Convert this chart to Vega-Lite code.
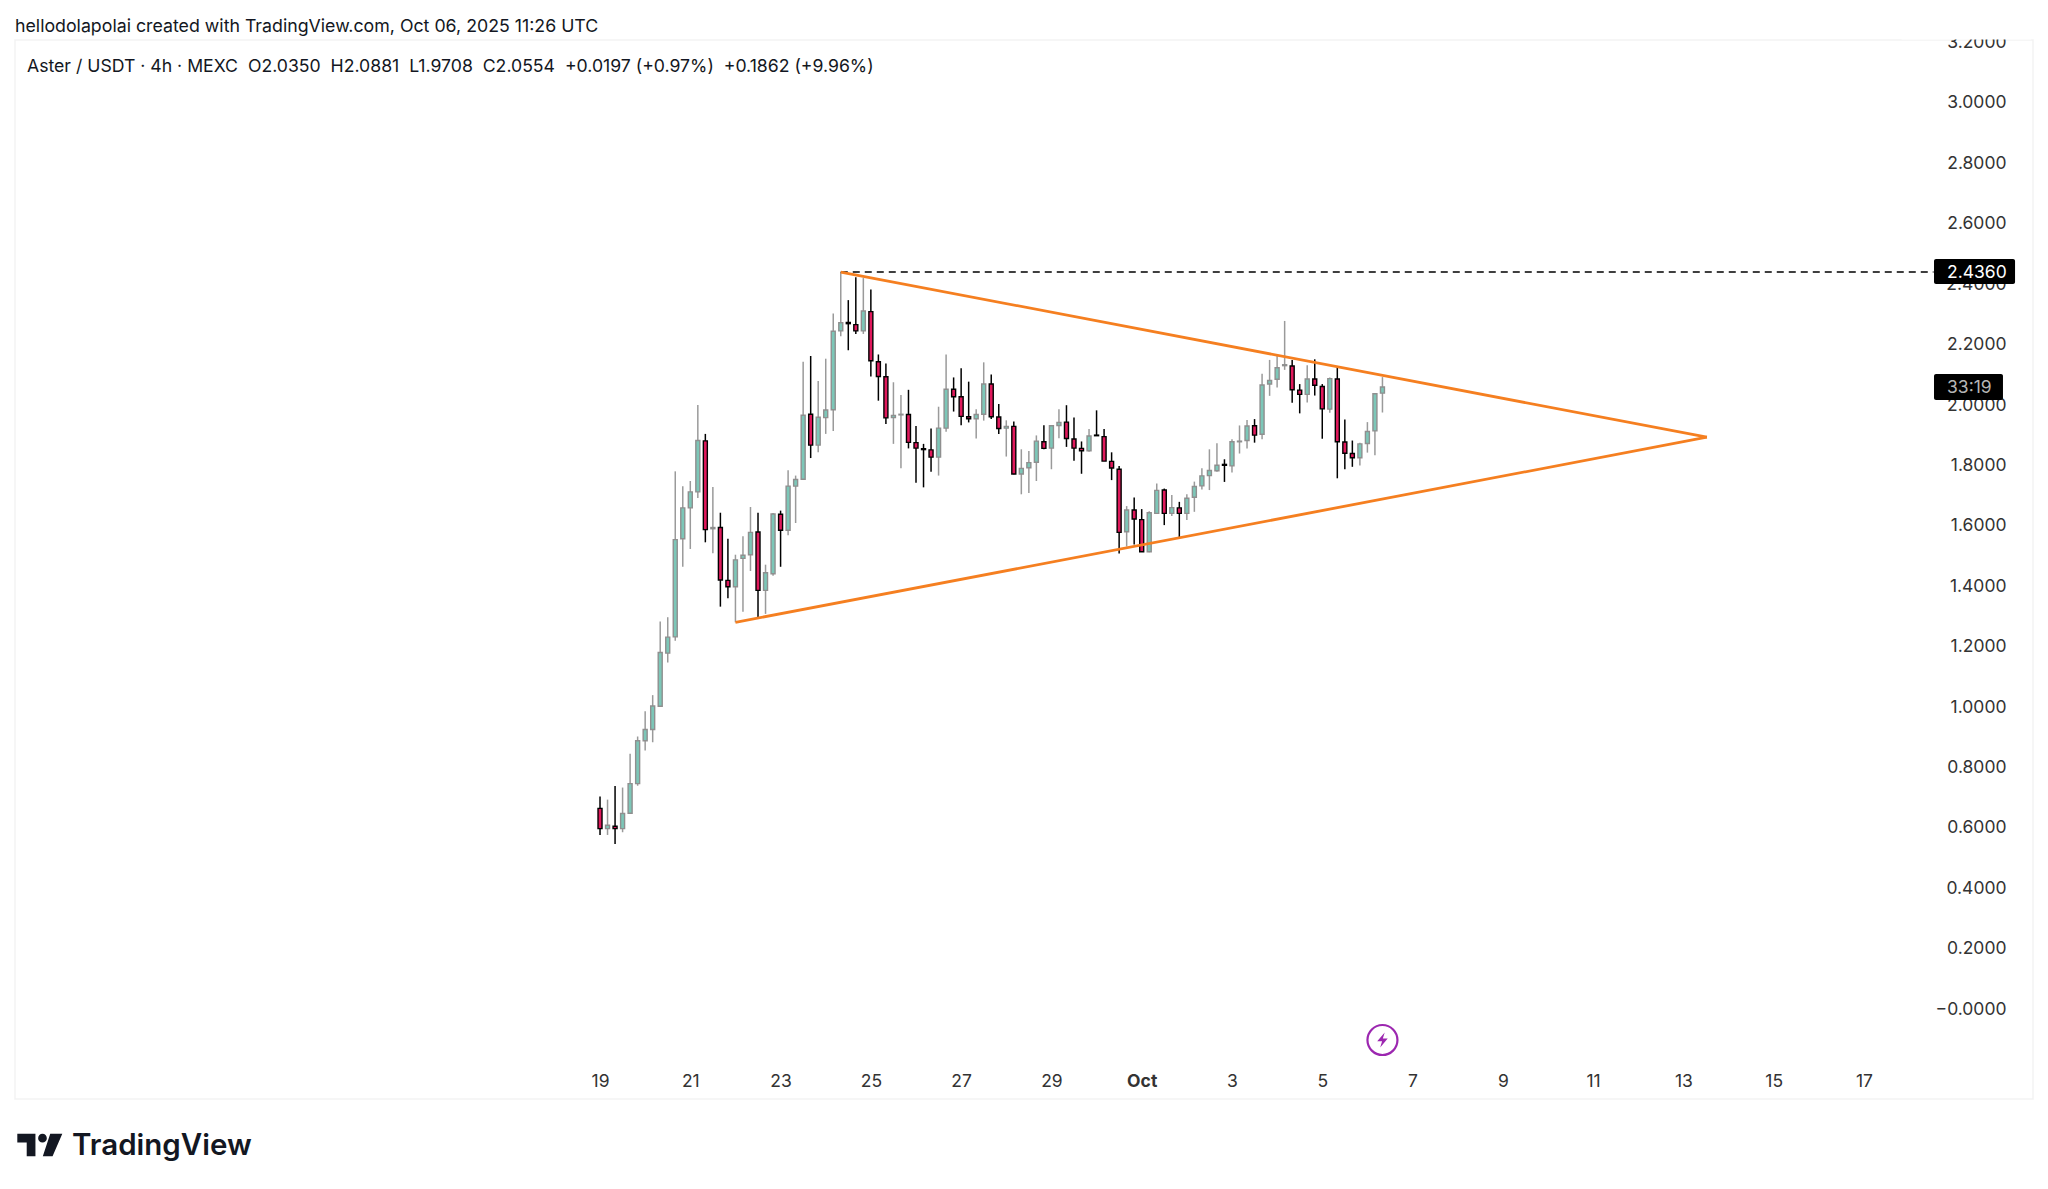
{"$schema":"https://vega.github.io/schema/vega-lite/v6.json","width":2018,"height":1059,"autosize":{"type":"none"},"padding":{"left":15,"top":40,"right":15,"bottom":90},"background":"white","view":{"stroke":"#f3f3f3","strokeWidth":1.5},
"datasets":{"candles":[
{"t":"2025-09-19T00:00:00Z","o":0.660,"h":0.699,"l":0.572,"c":0.593},
{"t":"2025-09-19T04:00:00Z","o":0.593,"h":0.689,"l":0.572,"c":0.604},
{"t":"2025-09-19T08:00:00Z","o":0.601,"h":0.734,"l":0.542,"c":0.593},
{"t":"2025-09-19T12:00:00Z","o":0.593,"h":0.729,"l":0.581,"c":0.643},
{"t":"2025-09-19T16:00:00Z","o":0.644,"h":0.841,"l":0.644,"c":0.742},
{"t":"2025-09-19T20:00:00Z","o":0.742,"h":0.898,"l":0.735,"c":0.884},
{"t":"2025-09-20T00:00:00Z","o":0.884,"h":0.982,"l":0.852,"c":0.921},
{"t":"2025-09-20T04:00:00Z","o":0.921,"h":1.035,"l":0.879,"c":0.999},
{"t":"2025-09-20T08:00:00Z","o":0.998,"h":1.279,"l":0.998,"c":1.176},
{"t":"2025-09-20T12:00:00Z","o":1.174,"h":1.293,"l":1.143,"c":1.227},
{"t":"2025-09-20T16:00:00Z","o":1.228,"h":1.776,"l":1.215,"c":1.550},
{"t":"2025-09-20T20:00:00Z","o":1.553,"h":1.727,"l":1.460,"c":1.655},
{"t":"2025-09-21T00:00:00Z","o":1.655,"h":1.744,"l":1.519,"c":1.708},
{"t":"2025-09-21T04:00:00Z","o":1.708,"h":1.996,"l":1.688,"c":1.878},
{"t":"2025-09-21T08:00:00Z","o":1.877,"h":1.900,"l":1.541,"c":1.583},
{"t":"2025-09-21T12:00:00Z","o":1.586,"h":1.724,"l":1.505,"c":1.590},
{"t":"2025-09-21T16:00:00Z","o":1.590,"h":1.639,"l":1.328,"c":1.416},
{"t":"2025-09-21T20:00:00Z","o":1.415,"h":1.553,"l":1.356,"c":1.394},
{"t":"2025-09-22T00:00:00Z","o":1.394,"h":1.500,"l":1.276,"c":1.483},
{"t":"2025-09-22T04:00:00Z","o":1.488,"h":1.561,"l":1.311,"c":1.498},
{"t":"2025-09-22T08:00:00Z","o":1.500,"h":1.658,"l":1.446,"c":1.574},
{"t":"2025-09-22T12:00:00Z","o":1.575,"h":1.639,"l":1.289,"c":1.382},
{"t":"2025-09-22T16:00:00Z","o":1.382,"h":1.467,"l":1.304,"c":1.440},
{"t":"2025-09-22T20:00:00Z","o":1.437,"h":1.638,"l":1.430,"c":1.635},
{"t":"2025-09-23T00:00:00Z","o":1.634,"h":1.646,"l":1.460,"c":1.581},
{"t":"2025-09-23T04:00:00Z","o":1.581,"h":1.780,"l":1.564,"c":1.727},
{"t":"2025-09-23T08:00:00Z","o":1.727,"h":1.762,"l":1.605,"c":1.749},
{"t":"2025-09-23T12:00:00Z","o":1.750,"h":2.139,"l":1.750,"c":1.962},
{"t":"2025-09-23T16:00:00Z","o":1.965,"h":2.158,"l":1.820,"c":1.863},
{"t":"2025-09-23T20:00:00Z","o":1.863,"h":2.075,"l":1.839,"c":1.955},
{"t":"2025-09-24T00:00:00Z","o":1.954,"h":2.149,"l":1.900,"c":1.979},
{"t":"2025-09-24T04:00:00Z","o":1.980,"h":2.299,"l":1.910,"c":2.240},
{"t":"2025-09-24T08:00:00Z","o":2.241,"h":2.436,"l":2.223,"c":2.268},
{"t":"2025-09-24T12:00:00Z","o":2.269,"h":2.343,"l":2.177,"c":2.265},
{"t":"2025-09-24T16:00:00Z","o":2.262,"h":2.419,"l":2.231,"c":2.241},
{"t":"2025-09-24T20:00:00Z","o":2.241,"h":2.416,"l":2.231,"c":2.307},
{"t":"2025-09-25T00:00:00Z","o":2.305,"h":2.378,"l":2.090,"c":2.142},
{"t":"2025-09-25T04:00:00Z","o":2.139,"h":2.163,"l":2.010,"c":2.090},
{"t":"2025-09-25T08:00:00Z","o":2.089,"h":2.133,"l":1.933,"c":1.953},
{"t":"2025-09-25T12:00:00Z","o":1.954,"h":2.071,"l":1.867,"c":1.961},
{"t":"2025-09-25T16:00:00Z","o":1.963,"h":2.029,"l":1.786,"c":1.965},
{"t":"2025-09-25T20:00:00Z","o":1.964,"h":2.046,"l":1.852,"c":1.872},
{"t":"2025-09-26T00:00:00Z","o":1.871,"h":1.926,"l":1.738,"c":1.853},
{"t":"2025-09-26T04:00:00Z","o":1.851,"h":1.867,"l":1.723,"c":1.848},
{"t":"2025-09-26T08:00:00Z","o":1.847,"h":1.918,"l":1.775,"c":1.823},
{"t":"2025-09-26T12:00:00Z","o":1.823,"h":1.990,"l":1.762,"c":1.919},
{"t":"2025-09-26T16:00:00Z","o":1.919,"h":2.163,"l":1.907,"c":2.048},
{"t":"2025-09-26T20:00:00Z","o":2.048,"h":2.087,"l":1.974,"c":2.023},
{"t":"2025-09-27T00:00:00Z","o":2.023,"h":2.117,"l":1.929,"c":1.958},
{"t":"2025-09-27T04:00:00Z","o":1.957,"h":2.073,"l":1.938,"c":1.950},
{"t":"2025-09-27T08:00:00Z","o":1.950,"h":1.982,"l":1.885,"c":1.964},
{"t":"2025-09-27T12:00:00Z","o":1.965,"h":2.137,"l":1.944,"c":2.065},
{"t":"2025-09-27T16:00:00Z","o":2.065,"h":2.097,"l":1.949,"c":1.957},
{"t":"2025-09-27T20:00:00Z","o":1.956,"h":1.999,"l":1.900,"c":1.918},
{"t":"2025-09-28T00:00:00Z","o":1.919,"h":1.945,"l":1.825,"c":1.925},
{"t":"2025-09-28T04:00:00Z","o":1.925,"h":1.941,"l":1.766,"c":1.767},
{"t":"2025-09-28T08:00:00Z","o":1.767,"h":1.849,"l":1.700,"c":1.786},
{"t":"2025-09-28T12:00:00Z","o":1.788,"h":1.843,"l":1.704,"c":1.805},
{"t":"2025-09-28T16:00:00Z","o":1.806,"h":1.895,"l":1.744,"c":1.876},
{"t":"2025-09-28T20:00:00Z","o":1.874,"h":1.929,"l":1.849,"c":1.852},
{"t":"2025-09-29T00:00:00Z","o":1.853,"h":1.928,"l":1.783,"c":1.927},
{"t":"2025-09-29T04:00:00Z","o":1.928,"h":1.982,"l":1.886,"c":1.938},
{"t":"2025-09-29T08:00:00Z","o":1.939,"h":1.995,"l":1.857,"c":1.885},
{"t":"2025-09-29T12:00:00Z","o":1.883,"h":1.954,"l":1.811,"c":1.853},
{"t":"2025-09-29T16:00:00Z","o":1.852,"h":1.875,"l":1.768,"c":1.844},
{"t":"2025-09-29T20:00:00Z","o":1.844,"h":1.916,"l":1.841,"c":1.893},
{"t":"2025-09-30T00:00:00Z","o":1.896,"h":1.978,"l":1.894,"c":1.894},
{"t":"2025-09-30T04:00:00Z","o":1.891,"h":1.916,"l":1.810,"c":1.810},
{"t":"2025-09-30T08:00:00Z","o":1.809,"h":1.839,"l":1.747,"c":1.787},
{"t":"2025-09-30T12:00:00Z","o":1.783,"h":1.794,"l":1.504,"c":1.574},
{"t":"2025-09-30T16:00:00Z","o":1.576,"h":1.661,"l":1.527,"c":1.648},
{"t":"2025-09-30T20:00:00Z","o":1.648,"h":1.689,"l":1.534,"c":1.618},
{"t":"2025-10-01T00:00:00Z","o":1.616,"h":1.651,"l":1.510,"c":1.510},
{"t":"2025-10-01T04:00:00Z","o":1.510,"h":1.644,"l":1.508,"c":1.639},
{"t":"2025-10-01T08:00:00Z","o":1.637,"h":1.736,"l":1.637,"c":1.713},
{"t":"2025-10-01T12:00:00Z","o":1.714,"h":1.719,"l":1.598,"c":1.637},
{"t":"2025-10-01T16:00:00Z","o":1.637,"h":1.698,"l":1.628,"c":1.656},
{"t":"2025-10-01T20:00:00Z","o":1.655,"h":1.675,"l":1.557,"c":1.637},
{"t":"2025-10-02T00:00:00Z","o":1.637,"h":1.700,"l":1.615,"c":1.687},
{"t":"2025-10-02T04:00:00Z","o":1.690,"h":1.742,"l":1.642,"c":1.726},
{"t":"2025-10-02T08:00:00Z","o":1.728,"h":1.786,"l":1.716,"c":1.761},
{"t":"2025-10-02T12:00:00Z","o":1.762,"h":1.849,"l":1.714,"c":1.779},
{"t":"2025-10-02T16:00:00Z","o":1.778,"h":1.869,"l":1.775,"c":1.796},
{"t":"2025-10-02T20:00:00Z","o":1.799,"h":1.816,"l":1.741,"c":1.796},
{"t":"2025-10-03T00:00:00Z","o":1.794,"h":1.882,"l":1.772,"c":1.874},
{"t":"2025-10-03T04:00:00Z","o":1.874,"h":1.928,"l":1.835,"c":1.876},
{"t":"2025-10-03T08:00:00Z","o":1.878,"h":1.946,"l":1.852,"c":1.926},
{"t":"2025-10-03T12:00:00Z","o":1.927,"h":1.949,"l":1.871,"c":1.896},
{"t":"2025-10-03T16:00:00Z","o":1.899,"h":2.099,"l":1.882,"c":2.062},
{"t":"2025-10-03T20:00:00Z","o":2.065,"h":2.145,"l":2.026,"c":2.077},
{"t":"2025-10-04T00:00:00Z","o":2.081,"h":2.159,"l":2.054,"c":2.119},
{"t":"2025-10-04T04:00:00Z","o":2.126,"h":2.274,"l":2.112,"c":2.129},
{"t":"2025-10-04T08:00:00Z","o":2.125,"h":2.145,"l":2.003,"c":2.046},
{"t":"2025-10-04T12:00:00Z","o":2.045,"h":2.065,"l":1.968,"c":2.031},
{"t":"2025-10-04T16:00:00Z","o":2.031,"h":2.127,"l":2.004,"c":2.082},
{"t":"2025-10-04T20:00:00Z","o":2.082,"h":2.147,"l":2.027,"c":2.061},
{"t":"2025-10-05T00:00:00Z","o":2.057,"h":2.065,"l":1.884,"c":1.983},
{"t":"2025-10-05T04:00:00Z","o":1.982,"h":2.087,"l":1.970,"c":2.083},
{"t":"2025-10-05T08:00:00Z","o":2.082,"h":2.123,"l":1.753,"c":1.874},
{"t":"2025-10-05T12:00:00Z","o":1.873,"h":1.948,"l":1.783,"c":1.836},
{"t":"2025-10-05T16:00:00Z","o":1.835,"h":1.878,"l":1.791,"c":1.821},
{"t":"2025-10-05T20:00:00Z","o":1.821,"h":1.871,"l":1.795,"c":1.867},
{"t":"2025-10-06T00:00:00Z","o":1.868,"h":1.939,"l":1.838,"c":1.908},
{"t":"2025-10-06T04:00:00Z","o":1.910,"h":2.034,"l":1.829,"c":2.033},
{"t":"2025-10-06T08:00:00Z","o":2.035,"h":2.0881,"l":1.9708,"c":2.0554}
],
"triangle":[
{"side":"upper","t":"2025-09-24T08:00:00Z","p":2.436},
{"side":"upper","t":"2025-10-13T12:30:00Z","p":1.889},
{"side":"lower","t":"2025-09-22T00:00:00Z","p":1.276},
{"side":"lower","t":"2025-10-13T12:30:00Z","p":1.889}
],
"level":[
{"t":"2025-09-24T08:00:00Z","p":2.436},
{"t":"2025-10-18T13:00:00Z","p":2.436}
],
"cover":[{"t":"2025-10-17T20:00:00Z","t2":"2025-10-20T17:00:00Z","p":3.206,"p2":3.24}],
"boxes":[
{"t":"2025-10-18T13:15:00Z","t2":"2025-10-20T08:20:00Z","p":2.479,"p2":2.396},
{"t":"2025-10-18T13:15:00Z","t2":"2025-10-20T01:55:00Z","p":2.098,"p2":2.012}
],
"priceLabel":[{"t":"2025-10-18T20:10:00Z","p":2.432,"label":"2.4360"}],
"timer":[{"t":"2025-10-18T20:10:00Z","p":2.051,"label":"33:19"}],
"header":[{"t":"2025-09-06T00:58:00Z","p":3.2467,"label":"hellodolapolai created with TradingView.com, Oct 06, 2025 11:26 UTC"}],
"legendLine":[{"t":"2025-09-06T07:20:00Z","p":3.114,"label":"Aster / USDT · 4h · MEXC\u00a0\u00a0O2.0350\u00a0\u00a0H2.0881\u00a0\u00a0L1.9708\u00a0\u00a0C2.0554\u00a0\u00a0+0.0197 (+0.97%)\u00a0\u00a0+0.1862 (+9.96%)"}],
"logoText":[{"t":"2025-09-07T07:16:00Z","p":-0.4586,"label":"TradingView"}],
"logoIcon":[{"t":"2025-09-06T14:09:00Z","p":-0.455}],
"flash":[{"t":"2025-10-06T08:00:00Z","p":-0.107}]
},
"layer":[
{"data":{"name":"candles"},"mark":{"type":"rule","strokeWidth":1.5},"encoding":{
"x":{"field":"t","type":"temporal","scale":{"type":"utc","domain":[1757120256000,1760982768000],"padding":0},"title":null,"axis":{"title":null,"values":[1758240000000,1758412800000,1758585600000,1758758400000,1758931200000,1759104000000,1759276800000,1759449600000,1759622400000,1759795200000,1759968000000,1760140800000,1760313600000,1760486400000,1760659200000],"labelExpr":"utcdate(datum.value)==1?'Oct':utcFormat(datum.value,'%-d')","labelFont":"Inter","labelFontSize":17.5,"labelColor":"#333333","labelFontWeight":{"condition":{"test":"utcdate(datum.value)==1","value":"bold"},"value":"normal"},"domain":false,"ticks":false,"grid":false,"offset":-27,"labelPadding":0,"labelOverlap":false,"labelFlush":false}},
"y":{"field":"l","type":"quantitative","scale":{"domain":[-0.3023,3.2043],"nice":false,"zero":false},"title":null,"axis":{"title":null,"orient":"right","values":[0,0.2,0.4,0.6,0.8,1,1.2,1.4,1.6,1.8,2,2.2,2.4,2.6,2.8,3,3.2],"labelExpr":"datum.value==0?'−0.0000':format(datum.value,'.4f')","labelFont":"Inter","labelFontSize":17.5,"labelColor":"#333333","labelAlign":"right","labelOffset":1.3,"domain":false,"ticks":false,"grid":false,"offset":-27,"labelPadding":0,"labelOverlap":false,"labelFlush":false,"labelBound":false}},
"y2":{"field":"h"},
"color":{"condition":{"test":"datum.c<datum.o","value":"#000000"},"value":"#9a9a9a"}}},
{"data":{"name":"candles"},"mark":{"type":"bar","size":4,"strokeWidth":1.4},"encoding":{
"x":{"field":"t","type":"temporal","title":null},
"y":{"field":"o","type":"quantitative","title":null},
"y2":{"field":"c"},
"fill":{"condition":{"test":"datum.c<datum.o","value":"#e0195c"},"value":"#7cc7b8"},
"stroke":{"condition":{"test":"datum.c<datum.o","value":"#000000"},"value":"#8f8f8f"}}},
{"data":{"name":"level"},"mark":{"type":"line","color":"#000000","strokeWidth":1.5,"strokeDash":[7,5]},"encoding":{"x":{"field":"t","type":"temporal","title":null},"y":{"field":"p","type":"quantitative","title":null}}},
{"data":{"name":"triangle"},"mark":{"type":"line","color":"#f57f20","strokeWidth":2.8},"encoding":{"x":{"field":"t","type":"temporal","title":null},"y":{"field":"p","type":"quantitative","title":null},"detail":{"field":"side"}}},
{"data":{"name":"cover"},"mark":{"type":"rect","color":"white"},"encoding":{"x":{"field":"t","type":"temporal","title":null},"x2":{"field":"t2"},"y":{"field":"p","type":"quantitative","title":null},"y2":{"field":"p2"}}},
{"data":{"name":"boxes"},"mark":{"type":"rect","color":"#000000","cornerRadius":2},"encoding":{"x":{"field":"t","type":"temporal","title":null},"x2":{"field":"t2"},"y":{"field":"p","type":"quantitative","title":null},"y2":{"field":"p2"}}},
{"data":{"name":"priceLabel"},"mark":{"type":"text","align":"left","baseline":"middle","font":"Inter","fontSize":17.5,"color":"#ffffff"},"encoding":{"x":{"field":"t","type":"temporal","title":null},"y":{"field":"p","type":"quantitative","title":null},"text":{"field":"label"}}},
{"data":{"name":"timer"},"mark":{"type":"text","align":"left","baseline":"middle","font":"Inter","fontSize":17.5,"color":"#b5b5b5"},"encoding":{"x":{"field":"t","type":"temporal","title":null},"y":{"field":"p","type":"quantitative","title":null},"text":{"field":"label"}}},
{"data":{"name":"header"},"mark":{"type":"text","align":"left","baseline":"middle","font":"Inter","fontSize":17.75,"color":"#131722"},"encoding":{"x":{"field":"t","type":"temporal","title":null},"y":{"field":"p","type":"quantitative","title":null},"text":{"field":"label"}}},
{"data":{"name":"legendLine"},"mark":{"type":"text","align":"left","baseline":"middle","font":"Inter","fontSize":17.65,"color":"#131722"},"encoding":{"x":{"field":"t","type":"temporal","title":null},"y":{"field":"p","type":"quantitative","title":null},"text":{"field":"label"}}},
{"data":{"name":"logoText"},"mark":{"type":"text","align":"left","baseline":"middle","font":"Inter","fontSize":29.5,"fontWeight":600,"color":"#131722"},"encoding":{"x":{"field":"t","type":"temporal","title":null},"y":{"field":"p","type":"quantitative","title":null},"text":{"field":"label"}}},
{"data":{"name":"logoIcon"},"mark":{"type":"point","filled":true,"color":"#131722","opacity":1,"size":2025,"shape":"M-1,-0.5L-0.194,-0.5L-0.194,0.5L-0.582,0.5L-0.582,-0.112L-1,-0.112ZM-0.075,-0.306a0.194,0.194 0 1,0 0.388,0a0.194,0.194 0 1,0 -0.388,0ZM1,-0.5L0.463,-0.5L0.134,0.5L0.567,0.5Z"},"encoding":{"x":{"field":"t","type":"temporal","title":null},"y":{"field":"p","type":"quantitative","title":null}}},
{"data":{"name":"flash"},"mark":{"type":"point","filled":false,"color":"#9c27b0","opacity":1,"size":900,"strokeWidth":2.2},"encoding":{"x":{"field":"t","type":"temporal","title":null},"y":{"field":"p","type":"quantitative","title":null}}},
{"data":{"name":"flash"},"mark":{"type":"point","filled":true,"color":"#9c27b0","opacity":1,"size":225,"shape":"M0.3,-1L-0.7,0.15L-0.05,0.15L-0.3,1L0.7,-0.2L0.05,-0.2Z"},"encoding":{"x":{"field":"t","type":"temporal","title":null},"y":{"field":"p","type":"quantitative","title":null}}}
]}
